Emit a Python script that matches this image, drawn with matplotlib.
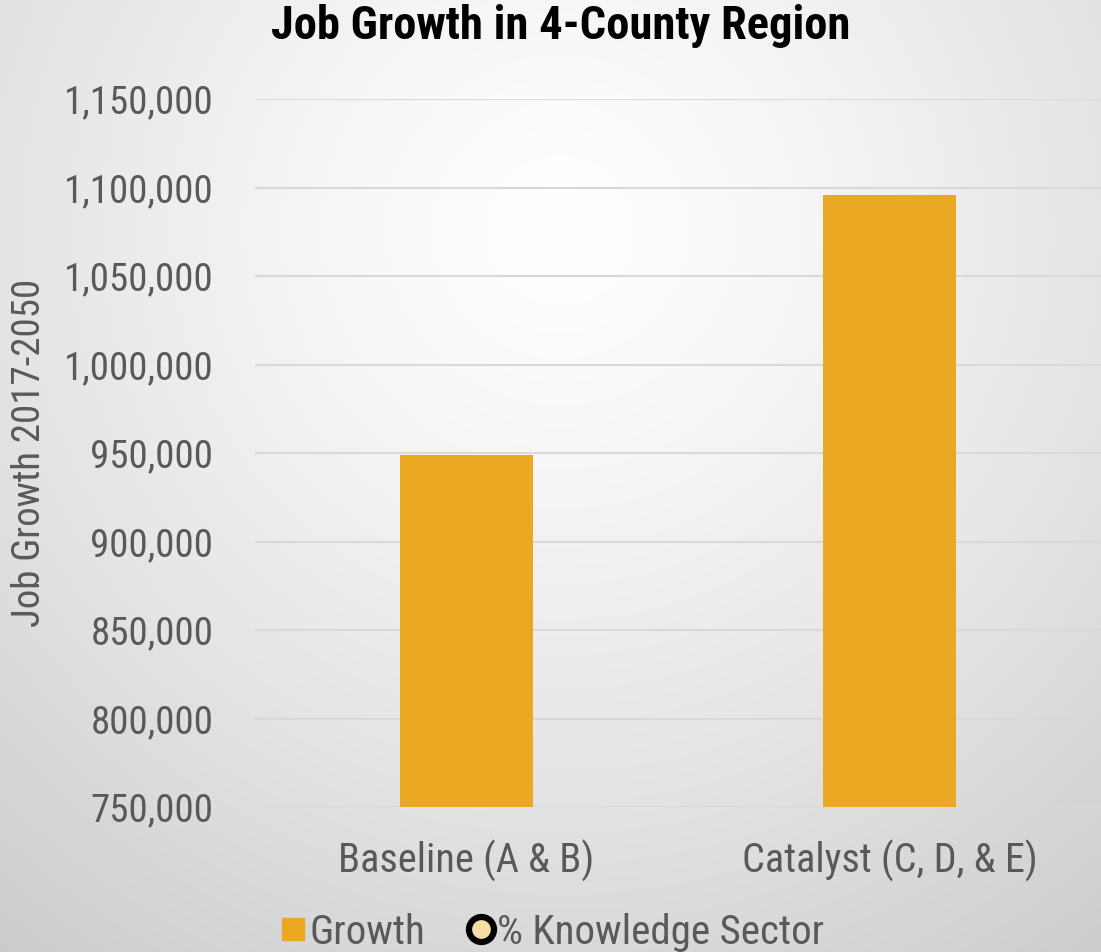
import numpy as np
import matplotlib
matplotlib.use("Agg")
import matplotlib.pyplot as plt
from matplotlib.lines import Line2D
from matplotlib.ticker import FuncFormatter

categories = ["Baseline (A & B)", "Catalyst (C, D, & E)"]
growth = [949000, 1096000]
yticks = [750000, 800000, 850000, 900000, 950000, 1000000, 1050000, 1100000, 1150000]

plt.rcParams['font.family'] = ['Arial Narrow', 'Liberation Sans Narrow', 'Roboto Condensed',
                               'Archivo Narrow', 'PT Sans Narrow', 'Liberation Sans', 'DejaVu Sans']
gray = '#595959'

fig = plt.figure(figsize=(11.01, 9.52), dpi=100)

# radial gradient background
bg = fig.add_axes([0, 0, 1, 1], zorder=-10)
yy, xx = np.mgrid[0:952, 0:1101]
r = np.sqrt(((xx - 560) / 800.0) ** 2 + ((yy - 230) / 800.0) ** 2)
val = 1.0 - 0.17 * np.clip(r, 0, 1.2) ** 1.3
bg.imshow(np.dstack([val, val, val]), aspect='auto', extent=[0, 1, 0, 1])
bg.axis('off')

ax = fig.add_axes([0.2316, 0.1523, 0.7684, 0.7437])
ax.patch.set_alpha(0)
x = np.arange(len(categories))
ax.bar(x, growth, width=0.315, color='#EBA823', zorder=3)
ax.set_xlim(-0.5, 1.5)
ax.set_ylim(750000, 1150000)
ax.set_yticks(yticks)
ax.yaxis.set_major_formatter(FuncFormatter(lambda v, p: f"{int(v):,}"))
ax.set_xticks(x)
ax.set_xticklabels(categories)
ax.tick_params(axis='both', length=0, labelsize=28, labelcolor=gray)
ax.tick_params(axis='x', pad=24, labelsize=29)
ax.tick_params(axis='y', pad=30)
ax.grid(axis='y', color='#d9d9d9', linewidth=1.5, zorder=0)
for s in ax.spines.values():
    s.set_visible(False)
ax.set_ylabel("Job Growth 2017-2050", fontsize=28, color=gray)
ax.yaxis.label.set_va('center')
ax.yaxis.set_label_coords(-0.266, 0.5)

fig.text(0.5095, 0.973, "Job Growth in 4-County Region", ha='center', va='center',
         fontsize=33.5, fontweight='bold', color='black')

handles = [
    Line2D([], [], marker='s', linestyle='none', markersize=16,
           markerfacecolor='#EBA823', markeredgecolor='#EBA823'),
    Line2D([], [], marker='o', linestyle='none', markersize=18,
           markerfacecolor='#F7DCA5', markeredgecolor='black', markeredgewidth=4.5),
]
leg = fig.legend(handles, ["Growth", "% Knowledge Sector"], loc='center left',
                 bbox_to_anchor=(0.216, 0.021), ncol=2, frameon=False, fontsize=29.5,
                 handletextpad=-0.05, columnspacing=0.9, handlelength=0.9,
                 labelcolor=gray)

fig.savefig("out.png", dpi=100)
